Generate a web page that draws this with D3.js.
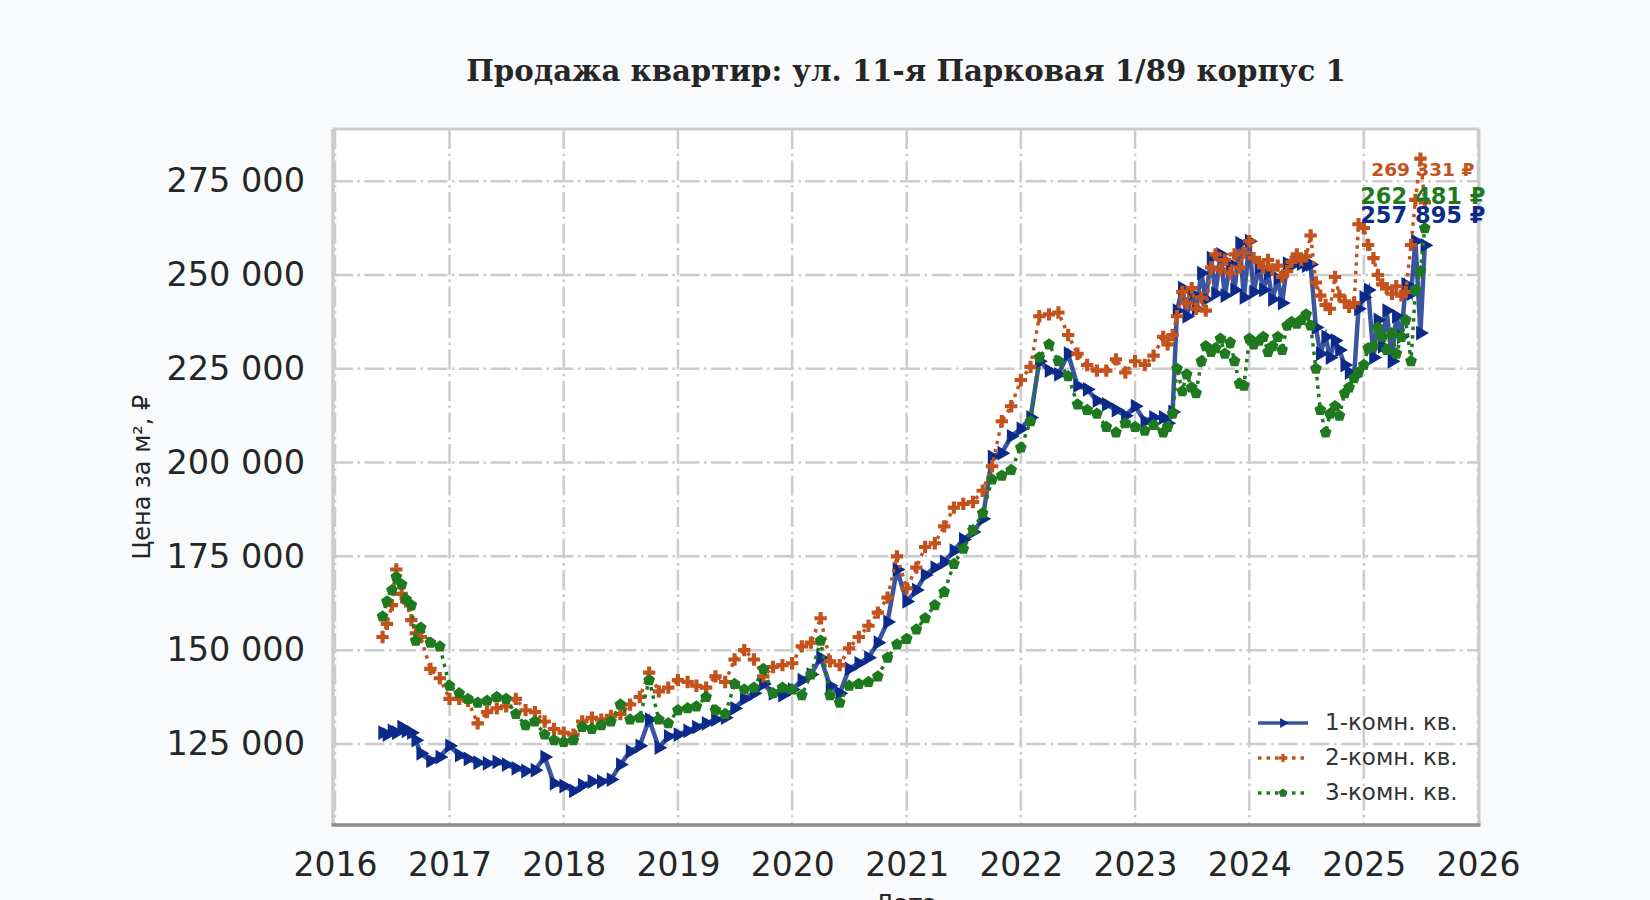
<!DOCTYPE html>
<html>
<head>
<meta charset="utf-8">
<script src="https://cdn.jsdelivr.net/npm/d3@7"></script>
<style>
  body { margin: 0; background: #f8fafc; }
</style>
</head>
<body>
<div id="chart"></div>
<script>
// даты наблюдений: полумесячно летом 2016, помесячно до 03.2023, далее полумесячно
var dates = [
  "2016-06-01","2016-06-15","2016-07-01","2016-07-15","2016-08-01","2016-08-15","2016-09-01","2016-09-15","2016-10-01","2016-11-01","2016-12-01",
  "2017-01-01","2017-02-01","2017-03-01","2017-04-01","2017-05-01","2017-06-01","2017-07-01","2017-08-01","2017-09-01","2017-10-01","2017-11-01","2017-12-01",
  "2018-01-01","2018-02-01","2018-03-01","2018-04-01","2018-05-01","2018-06-01","2018-07-01","2018-08-01","2018-09-01","2018-10-01","2018-11-01","2018-12-01",
  "2019-01-01","2019-02-01","2019-03-01","2019-04-01","2019-05-01","2019-06-01","2019-07-01","2019-08-01","2019-09-01","2019-10-01","2019-11-01","2019-12-01",
  "2020-01-01","2020-02-01","2020-03-01","2020-04-01","2020-05-01","2020-06-01","2020-07-01","2020-08-01","2020-09-01","2020-10-01","2020-11-01","2020-12-01",
  "2021-01-01","2021-02-01","2021-03-01","2021-04-01","2021-05-01","2021-06-01","2021-07-01","2021-08-01","2021-09-01","2021-10-01","2021-11-01","2021-12-01",
  "2022-01-01","2022-02-01","2022-03-01","2022-04-01","2022-05-01","2022-06-01","2022-07-01","2022-08-01","2022-09-01","2022-10-01","2022-11-01","2022-12-01",
  "2023-01-01","2023-02-01","2023-03-01","2023-04-01","2023-04-15","2023-05-01","2023-05-15","2023-06-01","2023-06-15","2023-07-01","2023-07-15","2023-08-01","2023-08-15","2023-09-01","2023-09-15","2023-10-01","2023-10-15","2023-11-01","2023-11-15","2023-12-01","2023-12-15",
  "2024-01-01","2024-01-15","2024-02-01","2024-02-15","2024-03-01","2024-03-15","2024-04-01","2024-04-15","2024-05-01","2024-05-15","2024-06-01","2024-06-15","2024-07-01","2024-07-15","2024-08-01","2024-08-15","2024-09-01","2024-09-15","2024-10-01","2024-10-15","2024-11-01","2024-11-15","2024-12-01","2024-12-15",
  "2025-01-01","2025-01-15","2025-02-01","2025-02-15","2025-03-01","2025-03-15","2025-04-01","2025-04-15","2025-05-01","2025-05-15","2025-06-01","2025-06-15","2025-07-01","2025-07-15"
]

// цена за м², ₽
var oneRoom = [
  128000,127500,128500,128000,129500,128500,128000,126000,122500,120500,121500,
  124500,122000,121000,120000,119800,120200,119500,118500,117800,118000,121500,114500,
  113800,112500,114000,115000,115000,115500,119500,123000,124500,131500,124000,127000,
  127500,128500,129500,130500,131500,132000,134500,137000,138500,141000,138500,138000,
  139500,142000,143500,148000,140500,138500,145000,146500,148000,152000,157500,171500,
  163000,166000,170000,172000,173500,176500,179500,181500,185000,201500,202500,207000,
  209000,212000,227000,224500,223500,229000,220500,219500,216500,215500,214000,212500,
  215000,211000,212000,212000,210500,213500,240500,246500,239000,245000,241000,250500,243500,254500,245000,255500,244500,253000,246000,258500,244000,
  259000,245500,252000,246000,250500,243500,249000,242500,253000,252500,253500,253000,252500,252800,236000,229000,233500,228000,232500,230000,226000,224000,223000,241000,
  244000,246000,228000,238000,231000,240500,227000,239000,233500,247500,245000,259000,234500,257895
]
var twoRoom = [
  153500,157000,162000,171500,165000,163000,158000,154500,153500,145000,142500,
  137000,137000,136500,130500,133500,134500,135000,137000,134000,133500,131000,129000,
  128000,127500,131000,132000,131500,132500,133000,135500,137500,144000,139000,140000,
  142000,141500,140500,140000,143000,141500,147500,150000,147500,143000,145500,146000,
  146500,151000,152000,158500,147000,146000,150500,153500,156500,160000,164000,175000,
  166500,172000,177500,178500,183000,188000,189000,189500,192500,199000,211000,215000,
  222000,225500,239000,239500,240000,234000,229000,226000,224500,224500,227500,224000,
  227000,226000,228500,233500,231500,234000,239000,245500,242500,246500,241000,244000,240500,252000,255500,251500,254000,250500,255500,252000,256000,
  259000,254500,253500,252000,254000,251500,252500,249500,251000,253500,255500,254000,255000,260500,248000,244500,242000,241000,249500,244500,243000,241500,242500,263500,
  262500,258000,254500,250000,247500,246500,245000,247000,244500,245500,258000,270000,281000,269331
]
var threeRoom = [
  159000,163000,166000,169500,167500,163500,162000,152500,156000,152000,151000,
  140500,138500,137000,136000,136500,137500,137000,133000,130000,131000,127500,126000,
  125500,126000,129500,129000,130000,131000,135500,131500,132000,142000,131500,130500,
  134000,134500,135000,137500,134000,133000,141000,139500,140000,145000,138500,140000,
  139500,138000,143500,152500,138000,136000,140500,141000,141500,143000,148000,151500,
  153000,155500,158500,162000,165500,173000,177000,182000,186500,195500,196500,198000,
  204000,211000,228000,231500,227000,223000,215500,214000,213000,209500,208000,210500,
  209500,208500,210000,208000,209500,213000,225000,219000,223500,220000,218500,227000,231000,229500,230500,233000,229000,232000,227000,221000,220500,
  233000,231500,232500,233500,229500,231000,233500,230000,236500,237500,237000,238000,239500,236500,225000,214000,208000,213000,215000,212500,218500,220000,222500,224000,
  226000,230500,231000,236000,233500,230000,234500,229000,233500,238000,227000,246000,251000,262481
]

var seriesNames = ["1-комн. кв.", "2-комн. кв.", "3-комн. кв."]
var yTicks = [125000, 150000, 175000, 200000, 225000, 250000, 275000]
var titleText = "Продажа квартир: ул. 11-я Парковая 1/89 корпус 1"

var svgSize = { width: 1650, height: 900 }
var plot = { left: 333, right: 1479, top: 129, bottom: 825 }

var ru = d3.formatLocale({ decimal: ",", thousands: " ", grouping: [3], currency: ["", " ₽"] })
var fmt = ru.format(",d")

var svg = d3.select("#chart").append("svg")
    .attr("width", svgSize.width)
    .attr("height", svgSize.height)
    .style("display", "block")

svg.append("rect").attr("width", svgSize.width).attr("height", svgSize.height).attr("fill", "#f8fafc")
svg.append("rect")
    .attr("x", plot.left).attr("y", plot.top)
    .attr("width", plot.right - plot.left).attr("height", plot.bottom - plot.top)
    .attr("fill", "#ffffff")

var parse = d3.timeParse("%Y-%m-%d")
var xScale = d3.scaleTime()
    .domain([new Date(2016, 0, 1), new Date(2026, 0, 1)])
    .range([335, 1478])
var yScale = d3.scaleLinear()
    .domain([103400, 288900])
    .range([plot.bottom, plot.top])

var xTicks = d3.timeYear.range(new Date(2016, 0, 1), new Date(2026, 0, 2))

// сетка
var grid = svg.append("g").attr("id", "grid")
    .attr("stroke", "#cccccc").attr("stroke-width", 2.5)
    .attr("stroke-dasharray", "20,4.5,2.5,4.5")
grid.selectAll("line.v").data(xTicks).enter().append("line")
    .attr("x1", d => xScale(d)).attr("x2", d => xScale(d))
    .attr("y1", plot.top).attr("y2", plot.bottom)
grid.selectAll("line.h").data(yTicks).enter().append("line")
    .attr("x1", plot.left).attr("x2", plot.right)
    .attr("y1", d => yScale(d)).attr("y2", d => yScale(d))

// оси
var bottomAxis = d3.axisBottom(xScale).tickValues(xTicks).tickFormat(d3.timeFormat("%Y")).tickSize(0).tickPadding(28)
var leftAxis = d3.axisLeft(yScale).tickValues(yTicks).tickFormat(fmt).tickSize(0).tickPadding(28)

var gx = svg.append("g").attr("transform", `translate(0, ${plot.bottom})`).call(bottomAxis)
var gy = svg.append("g").attr("transform", `translate(${plot.left}, 0)`).call(leftAxis)
gx.select(".domain").remove()
gy.select(".domain").remove()
gx.selectAll("text").attr("font-family", "DejaVu Sans").attr("font-size", 33).attr("fill", "#262626")
gy.selectAll("text").attr("font-family", "DejaVu Sans").attr("font-size", 33.5).attr("fill", "#262626")

// рамка
var frame = svg.append("g").attr("id", "spines")
frame.append("line").attr("x1", plot.left).attr("x2", plot.left).attr("y1", plot.top).attr("y2", plot.bottom)
    .attr("stroke", "#cccccc").attr("stroke-width", 3.5)
frame.append("line").attr("x1", plot.right).attr("x2", plot.right).attr("y1", plot.top).attr("y2", plot.bottom)
    .attr("stroke", "#cccccc").attr("stroke-width", 3)
frame.append("line").attr("x1", plot.left).attr("x2", plot.right).attr("y1", plot.top).attr("y2", plot.top)
    .attr("stroke", "#cccccc").attr("stroke-width", 3)
frame.append("line").attr("x1", plot.left - 1.5).attr("x2", plot.right + 1.5).attr("y1", plot.bottom).attr("y2", plot.bottom)
    .attr("stroke", "#8c8c8c").attr("stroke-width", 3.5)

// маркеры
function pentagon(r) {
    var p = d3.path()
    for (var k = 0; k < 5; k++) {
        var a = -Math.PI / 2 + k * 2 * Math.PI / 5
        if (k === 0) p.moveTo(r * Math.cos(a), r * Math.sin(a))
        else p.lineTo(r * Math.cos(a), r * Math.sin(a))
    }
    p.closePath()
    return p.toString()
}

var series = [
    { name: seriesNames[0], values: oneRoom, color: "#0b2a8a", dash: null, opacity: 0.8, width: 4.5,
      marker: d3.symbol().type(d3.symbolTriangle).size(95)(), rotate: 90, legendMarker: d3.symbol().type(d3.symbolTriangle).size(42)() },
    { name: seriesNames[1], values: twoRoom, color: "#c4521c", dash: "3.5,5", opacity: 1, width: 3.5,
      marker: d3.symbol().type(d3.symbolCross).size(85)(), rotate: 0, legendMarker: d3.symbol().type(d3.symbolCross).size(42)() },
    { name: seriesNames[2], values: threeRoom, color: "#1f7a1f", dash: "3.5,5", opacity: 1, width: 3.5,
      marker: pentagon(6.2), rotate: 0, legendMarker: pentagon(4.5) }
]

var line = d3.line()
    .x(d => xScale(d.date))
    .y(d => yScale(d.value))

var chartData = svg.append("g").attr("id", "chartData")

series.forEach(s => {
    var pts = dates.map((d, i) => ({ date: parse(d), value: s.values[i] }))
    var g = chartData.append("g")
    g.append("path").datum(pts)
        .attr("d", line)
        .attr("fill", "none")
        .attr("stroke", s.color)
        .attr("stroke-width", s.width)
        .attr("stroke-opacity", s.opacity)
        .attr("stroke-dasharray", s.dash)
    g.selectAll("path.m").data(pts).enter().append("path")
        .attr("class", "m")
        .attr("d", s.marker)
        .attr("fill", s.color)
        .attr("transform", d => `translate(${xScale(d.date)},${yScale(d.value)}) rotate(${s.rotate})`)
})

// подписи последних значений
var lastDate = parse(dates[dates.length - 1])
var labelSizes = [22.5, 18.5, 22.5]
var labelShift = [-29, -31, -31]
series.forEach((s, i) => {
    var v = s.values[s.values.length - 1]
    svg.append("text")
        .attr("x", xScale(lastDate) - 2)
        .attr("y", yScale(v) + labelShift[i])
        .attr("text-anchor", "middle")
        .attr("dominant-baseline", "middle")
        .attr("font-family", "DejaVu Sans")
        .attr("font-weight", "bold")
        .attr("font-size", labelSizes[i])
        .attr("fill", s.color)
        .text(fmt(v) + " ₽")
})

// легенда
var legend = svg.append("g").attr("id", "legend")
series.forEach((s, i) => {
    var y = 723 + i * 35
    legend.append("line")
        .attr("x1", 1258).attr("x2", 1308).attr("y1", y).attr("y2", y)
        .attr("stroke", s.color).attr("stroke-width", 3.5)
        .attr("stroke-opacity", s.opacity)
        .attr("stroke-dasharray", s.dash)
    legend.append("path")
        .attr("d", s.legendMarker)
        .attr("fill", s.color)
        .attr("transform", `translate(1283,${y}) rotate(${s.rotate})`)
    legend.append("text")
        .attr("x", 1325).attr("y", y)
        .attr("dominant-baseline", "middle")
        .attr("font-family", "DejaVu Sans")
        .attr("font-size", 23)
        .attr("fill", "#333333")
        .text(s.name)
})

// заголовок и подписи осей
svg.append("text")
    .attr("x", (plot.left + plot.right) / 2).attr("y", 81)
    .attr("text-anchor", "middle")
    .attr("font-family", "DejaVu Serif")
    .attr("font-weight", "bold")
    .attr("font-size", 29.2)
    .attr("fill", "#262626")
    .text(titleText)

svg.append("text")
    .attr("transform", `translate(150, ${(plot.top + plot.bottom) / 2}) rotate(-90)`)
    .attr("text-anchor", "middle")
    .attr("font-family", "DejaVu Sans")
    .attr("font-size", 24)
    .attr("fill", "#262626")
    .text("Цена за м², ₽")

svg.append("text")
    .attr("x", (plot.left + plot.right) / 2).attr("y", 912)
    .attr("text-anchor", "middle")
    .attr("font-family", "DejaVu Sans")
    .attr("font-size", 24)
    .attr("fill", "#262626")
    .text("Дата")
</script>
</body>
</html>
